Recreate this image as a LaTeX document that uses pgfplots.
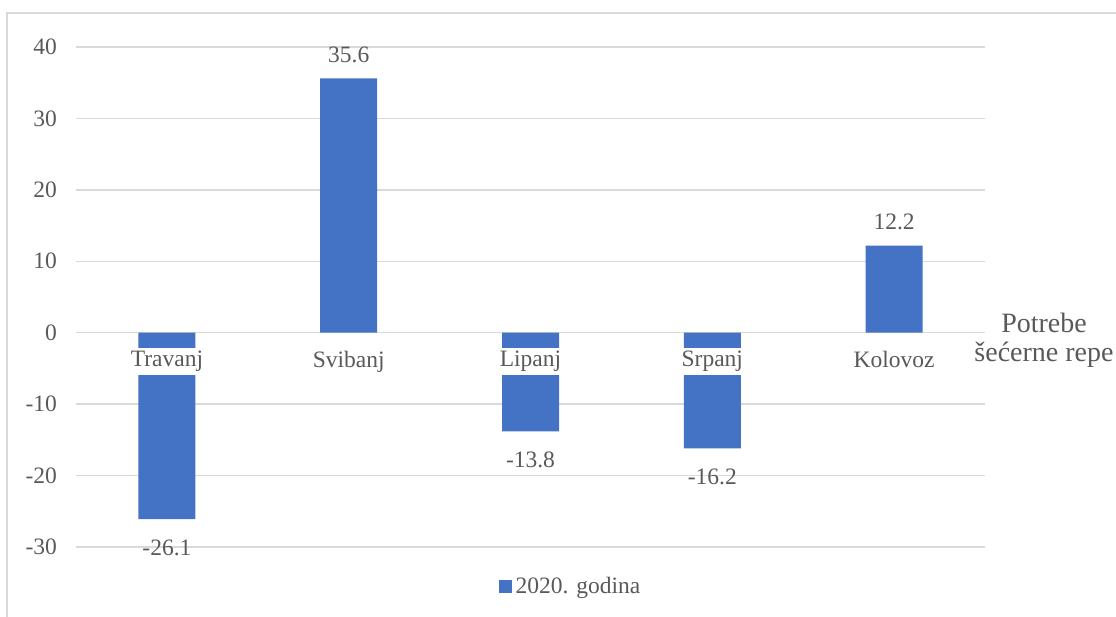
\documentclass[border=0pt]{standalone}
\usepackage{pgfplots}
\pgfplotsset{compat=1.18}
\usepackage{fontspec}
\setmainfont{Liberation Serif}
\definecolor{barblue}{HTML}{4472C4}
\definecolor{txt}{HTML}{595959}
\definecolor{gridc}{HTML}{D9D9D9}

\begin{document}
\begin{tikzpicture}
\begin{axis}[
  scale only axis, width=454.5pt, height=250pt,
  ymin=-30, ymax=40, ytick={-30,-20,...,40},
  xmin=-0.5, xmax=4.5, xtick=data, xticklabels={},
  axis x line*=middle, axis y line*=left,
  axis line style={draw=none},
  major tick length=0pt,
  hide obscured x ticks=false, hide obscured y ticks=false,
  ymajorgrids, grid style={gridc, line width=0.75pt},
  ybar, bar width=28.5pt, bar shift=0pt,
  /pgf/number format/assume math mode=true,
  tick label style={font=\fontsize{11.75}{14}\selectfont, text=txt},
  yticklabel style={xshift=-6pt},
  xlabel={Potrebe\\šećerne repe},
  xlabel style={at={(axis description cs:1,0.4286)}, anchor=center,
    xshift=29.5pt, yshift=-4pt,
    align=center, font=\fontsize{14}{14.5}\selectfont, text=txt},
  legend style={at={(axis description cs:0.545,-0.08)}, anchor=center,
    draw=none, fill=none, font=\fontsize{11.75}{14}\selectfont, text=txt},
]
\addplot[fill=barblue, draw=none,
  nodes near coords={\pgfmathprintnumber[fixed,precision=1,fixed zerofill]{\pgfplotspointmeta}},
  every node near coord/.append style={font=\fontsize{11.75}{14}\selectfont, text=txt,
    inner sep=7.5pt, text height=10.3pt},
  legend image code/.code={\fill[barblue] (0pt,-3.25pt) rectangle (6.5pt,3.25pt);}]
  coordinates {(0,-26.1) (1,35.6) (2,-13.8) (3,-16.2) (4,12.2)};
\addlegendentry{2020. godina}
% category names on the zero line, over the bars
\addplot[draw=none, fill=none, forget plot,
  point meta=explicit symbolic,
  nodes near coords={\pgfplotspointmeta}, nodes near coords align=below,
  every node near coord/.style={fill=white, inner sep=1.5pt, yshift=-7.5pt,
    font=\fontsize{11.75}{14}\selectfont, text=txt}]
  table[meta=lab] {
x y lab
0 0 Travanj
1 0 Svibanj
2 0 Lipanj
3 0 Srpanj
4 0 Kolovoz
};
\coordinate (SW) at (rel axis cs:0,0);
\coordinate (NE) at (rel axis cs:1,1);
\end{axis}
\draw[gridc, line width=0.75pt] ([shift={(-34.5pt,-60pt)}]SW) |- ([shift={(90pt,17pt)}]NE);
\pgfresetboundingbox
\path ([shift={(-38pt,-35pt)}]SW) rectangle ([shift={(65.5pt,23.5pt)}]NE);
\end{tikzpicture}
\end{document}
